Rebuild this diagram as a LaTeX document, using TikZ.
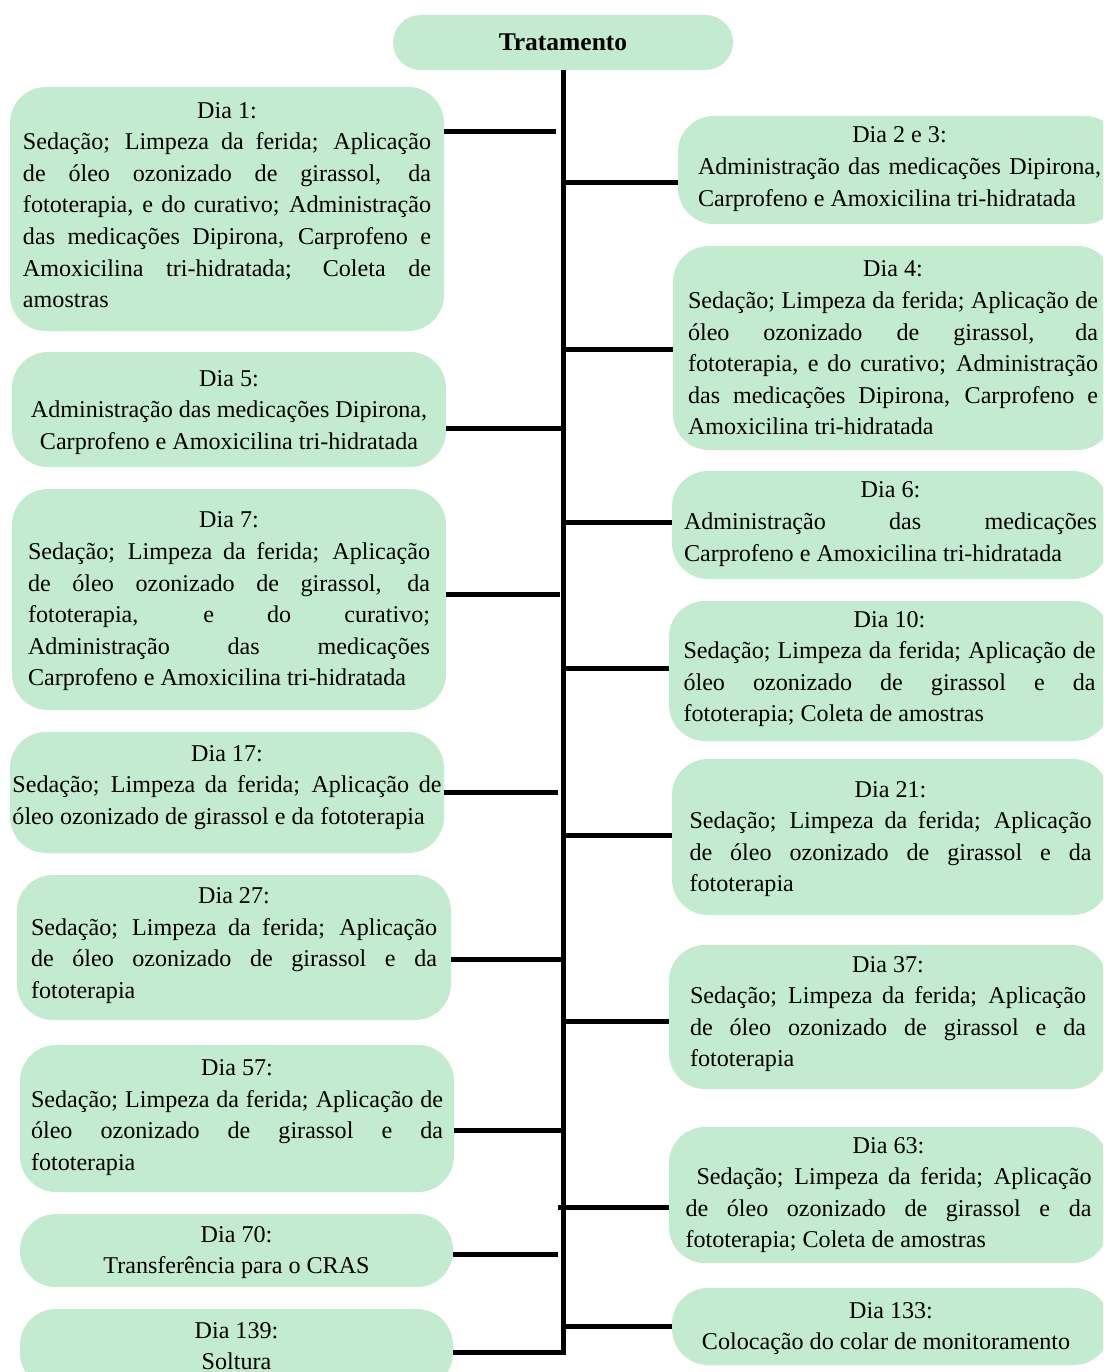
\documentclass[tikz,border=0pt]{standalone}
\usepackage{fontspec}
\setmainfont{Liberation Serif}
\definecolor{boxgreen}{RGB}{195,235,207}
\newcommand{\ttl}[1]{{\centering #1\par}}
% justified text block of width #1, raised by #2 without changing its size
\newcommand{\jtext}[3]{\raisebox{#2pt}[\height][\depth]{\parbox{#1pt}{#3}}}
\newcommand{\ctext}[3]{\raisebox{#2pt}[\height][\depth]{\parbox{#1pt}{\centering #3}}}
\tikzset{
  box/.style={fill=boxgreen, rounded corners=36pt, inner sep=0pt,
    font=\fontsize{24.1pt}{31.6pt}\selectfont},
  conn/.style={line width=5pt, draw=black},
}
\begin{document}
\tolerance=10000 \hbadness=10000 \hyphenpenalty=10000 \exhyphenpenalty=10000
\begin{tikzpicture}[x=1pt,y=-1pt]
\useasboundingbox (0,0) rectangle (1103,1372);
\fill[white] (0,0) rectangle (1103,1372);
\clip (0,0) rectangle (1103,1372);

% title
\node[box, rounded corners=27.5pt, minimum width=340pt, minimum height=55pt,
  font=\fontsize{25.5pt}{31.6pt}\selectfont\bfseries] (top) at (563,42.5) {Tratamento};

% left column
\node[box, minimum width=434pt, minimum height=244pt] (d1) at (227,209)
 {\jtext{408}{4}{\ttl{Dia 1:}Sedação; Limpeza da ferida; Aplicação\linebreak de óleo ozonizado de girassol, da\linebreak fototerapia, e do curativo; Administração\linebreak das medicações Dipirona, Carprofeno e\linebreak Amoxicilina tri-hidratada; Coleta de\linebreak amostras}};
\node[box, minimum width=434pt, minimum height=115pt] (d5) at (229,409.5)
 {\ctext{420}{-3}{Dia 5:\\Administração das medicações Dipirona,\\Carprofeno e Amoxicilina tri-hidratada}};
\node[box, minimum width=434pt, minimum height=221pt] (d7) at (229,599.5)
 {\jtext{402}{-2}{\ttl{Dia 7:}Sedação; Limpeza da ferida; Aplicação\linebreak de óleo ozonizado de girassol, da\linebreak fototerapia, e do curativo;\linebreak Administração das medicações\linebreak Carprofeno e Amoxicilina tri-hidratada}};
\node[box, minimum width=434pt, minimum height=121pt] (d17) at (227,792.5)
 {\jtext{429}{5}{\ttl{Dia 17:}Sedação; Limpeza da ferida; Aplicação de\linebreak óleo ozonizado de girassol e da fototerapia}};
\node[box, minimum width=434pt, minimum height=145pt] (d27) at (234,947.5)
 {\jtext{406}{2}{\ttl{Dia 27:}Sedação; Limpeza da ferida; Aplicação\linebreak de óleo ozonizado de girassol e da\linebreak fototerapia}};
\node[box, minimum width=434pt, minimum height=147pt] (d57) at (237,1118.5)
 {\jtext{412}{1}{\ttl{Dia 57:}Sedação; Limpeza da ferida; Aplicação de\linebreak óleo ozonizado de girassol e da\linebreak fototerapia}};
\node[box, minimum width=433pt, minimum height=73pt] (d70) at (236.5,1250.5)
 {\ctext{420}{-2}{Dia 70:\\Transferência para o CRAS}};
\node[box, minimum width=433pt, minimum height=80pt] (d139) at (236.5,1349)
 {\ctext{420}{3}{Dia 139:\\Soltura}};

% right column
\node[box, minimum width=443pt, minimum height=108pt] (d23) at (899.5,170)
 {\jtext{403}{1}{\ttl{Dia 2 e 3:}Administração das medicações Dipirona,\linebreak Carprofeno e Amoxicilina tri-hidratada}};
\node[box, minimum width=440pt, minimum height=204pt] (d4) at (893,348)
 {\jtext{410}{0}{\ttl{Dia 4:}Sedação; Limpeza da ferida; Aplicação de\linebreak óleo ozonizado de girassol, da\linebreak fototerapia, e do curativo; Administração\linebreak das medicações Dipirona, Carprofeno e\linebreak Amoxicilina tri-hidratada}};
\node[box, minimum width=437pt, minimum height=108pt] (d6) at (890.5,525)
 {\jtext{413}{1}{\ttl{Dia 6:}Administração das medicações\linebreak Carprofeno e Amoxicilina tri-hidratada}};
\node[box, minimum width=441pt, minimum height=140pt] (d10) at (889.5,671)
 {\jtext{412}{2}{\ttl{Dia 10:}Sedação; Limpeza da ferida; Aplicação de\linebreak óleo ozonizado de girassol e da\linebreak fototerapia; Coleta de amostras}};
\node[box, minimum width=437pt, minimum height=156pt] (d21) at (890.5,837)
 {\jtext{402}{-2}{\ttl{Dia 21:}Sedação; Limpeza da ferida; Aplicação\linebreak de óleo ozonizado de girassol e da\linebreak fototerapia}};
\node[box, minimum width=438pt, minimum height=144pt] (d37) at (888,1017)
 {\jtext{396}{3}{\ttl{Dia 37:}Sedação; Limpeza da ferida; Aplicação\linebreak de óleo ozonizado de girassol e da\linebreak fototerapia}};
\node[box, minimum width=439pt, minimum height=136pt] (d63) at (888.5,1195)
 {\jtext{406}{0}{\ttl{Dia 63:}\leavevmode\hspace*{11pt}Sedação; Limpeza da ferida; Aplicação\linebreak de óleo ozonizado de girassol e da\linebreak fototerapia; Coleta de amostras}};
\node[box, minimum width=438pt, minimum height=77pt] (d133) at (891,1326.5)
 {\ctext{420}{-2}{Dia 133:\\Colocação do colar de monitoramento\hspace*{10pt}}};

% spine coordinates
\coordinate (s1) at (556,132);
\coordinate (s5) at (563,428);
\coordinate (s7) at (560,594);
\coordinate (s17) at (558,792);
\coordinate (s27) at (563,959);
\coordinate (s57) at (563,1130);
\coordinate (s70) at (558,1254);
\coordinate (s139) at (563,1352);
\coordinate (s23) at (563,183);
\coordinate (s4) at (563,349);
\coordinate (s6) at (563,522);
\coordinate (s10) at (563,668);
\coordinate (s21) at (563,835);
\coordinate (s37) at (563,1021);
\coordinate (s63) at (558,1207);
\coordinate (s133) at (563,1326);

% spine with bottom corner to Dia 139
\draw[conn] (top.south) -- (s139) -- (s139 -| d139.east);

% left connectors
\draw[conn] (s1 -| d1.east) -- (s1);
\draw[conn] (s5 -| d5.east) -- (s5);
\draw[conn] (s7 -| d7.east) -- (s7);
\draw[conn] (s17 -| d17.east) -- (s17);
\draw[conn] (s27 -| d27.east) -- (s27);
\draw[conn] (s57 -| d57.east) -- (s57);
\draw[conn] (s70 -| d70.east) -- (s70);

% right connectors
\draw[conn] (s23) -- (s23 -| d23.west);
\draw[conn] (s4) -- (s4 -| d4.west);
\draw[conn] (s6) -- (s6 -| d6.west);
\draw[conn] (s10) -- (s10 -| d10.west);
\draw[conn] (s21) -- (s21 -| d21.west);
\draw[conn] (s37) -- (s37 -| d37.west);
\draw[conn] (s63) -- (s63 -| d63.west);
\draw[conn] (s133) -- (s133 -| d133.west);
\end{tikzpicture}
\end{document}
